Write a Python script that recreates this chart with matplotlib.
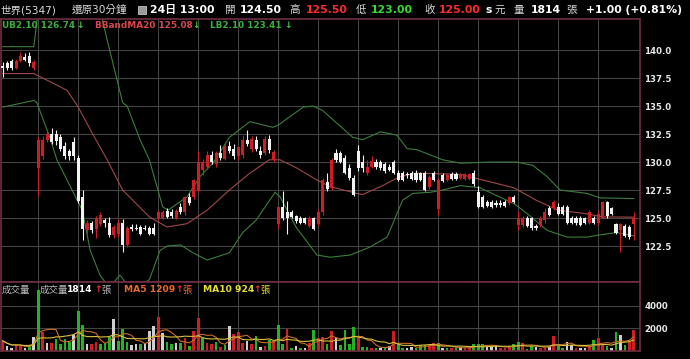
import matplotlib
matplotlib.use("Agg")
import matplotlib.pyplot as plt
import numpy as np
import pandas as pd

# K線資料 (30分鐘, 143根)
opens = [138.6, 138.8, 139.0, 138.4, 139.0, 139.4, 139.5, 138.4,
         129.5, 130.5, 132.0, 132.5, 132.5, 132.2, 131.4, 131.0, 131.8,
         130.4, 126.9, 123.9, 124.6, 124.0, 124.5, 124.8, 124.6, 123.5,
         123.6, 124.6, 122.6, 124.2, 124.1, 124.2, 124.1, 124.1, 124.1,
         125.0, 125.0, 125.6, 125.5, 125.0, 126.0, 125.5, 126.9, 126.9,
         127.4, 129.3, 129.6, 130.6, 129.8, 130.8, 130.3, 131.4, 131.2,
         130.5, 130.6, 132.0, 131.2, 132.0, 131.0, 130.8, 132.1, 130.2,
         124.5, 126.0, 125.5, 125.5, 125.2, 125.0, 125.0, 124.3, 125.0,
         124.5, 125.5, 128.2, 127.7, 130.8, 130.8, 130.4, 129.5, 128.6,
         131.0, 130.0, 129.0, 129.6, 130.0, 130.0, 129.8, 129.6, 130.0,
         129.0, 129.0, 128.9, 129.0, 129.0, 129.0, 129.0, 127.8, 129.0,
         125.8, 128.8, 128.4, 128.9, 128.9, 128.6, 128.5, 128.5, 129.0,
         127.3, 126.9, 126.4, 126.4, 126.3, 126.3, 126.4, 126.3, 126.9,
         124.4, 124.4, 125.0, 125.0, 124.3, 124.4, 124.8, 125.9, 125.9,
         126.0, 126.0, 126.0, 125.0, 125.0, 125.0, 125.0, 124.6, 125.0,
         124.6, 125.0, 126.4, 125.9, 124.5, 123.9, 124.3, 124.2, 124.5]
highs = [138.9, 139.0, 139.2, 139.2, 139.8, 139.7, 139.8, 139.1,
         132.2, 132.3, 132.9, 133.0, 132.9, 132.5, 131.8, 131.2, 132.2,
         130.6, 127.5, 124.8, 124.7, 125.2, 125.5, 125.0, 125.1, 124.4,
         124.9, 124.9, 124.3, 124.5, 124.5, 124.4, 124.4, 124.3, 124.6,
         125.7, 125.7, 125.9, 125.8, 125.8, 126.3, 127.0, 127.2, 128.5,
         131.0, 130.3, 131.0, 131.0, 131.0, 131.5, 131.8, 131.9, 131.6,
         131.4, 132.4, 132.9, 132.3, 132.3, 131.4, 132.3, 132.4, 131.1,
         126.0, 127.4, 126.5, 125.7, 125.3, 125.2, 125.1, 125.2, 125.1,
         125.8, 128.6, 129.0, 130.4, 131.2, 131.0, 130.6, 129.8, 128.8,
         131.5, 130.6, 130.2, 130.5, 130.3, 130.2, 130.0, 129.8, 130.2,
         129.3, 129.2, 129.1, 129.2, 129.3, 129.1, 129.2, 128.8, 129.2,
         128.6, 129.0, 129.0, 129.1, 129.1, 129.0, 129.0, 129.0, 129.3,
         127.9, 127.1, 126.6, 126.6, 126.6, 126.6, 126.6, 127.0, 127.1,
         125.6, 125.2, 125.2, 125.1, 124.5, 125.2, 125.9, 126.1, 126.6,
         126.3, 126.2, 126.2, 125.2, 125.2, 125.2, 125.1, 125.7, 125.2,
         125.7, 126.5, 126.5, 126.0, 124.6, 124.6, 124.5, 124.4, 125.5]
lows = [137.6, 138.2, 138.2, 138.3, 138.9, 139.0, 138.6, 138.2,
        127.0, 130.3, 131.8, 131.6, 131.5, 131.0, 130.3, 130.2, 130.2,
        126.3, 123.0, 123.6, 123.7, 123.2, 124.3, 124.2, 123.3, 123.2,
        123.3, 122.0, 122.4, 123.8, 123.9, 123.5, 123.9, 123.5, 123.5,
        124.8, 124.9, 125.0, 125.0, 124.9, 125.4, 125.3, 126.2, 126.7,
        127.3, 128.8, 129.4, 129.8, 129.6, 130.2, 130.2, 130.8, 130.3,
        130.2, 130.4, 131.4, 130.9, 131.0, 130.4, 130.6, 130.8, 130.0,
        124.0, 124.8, 123.6, 125.0, 124.6, 124.5, 124.5, 124.2, 123.9,
        124.3, 125.3, 127.4, 127.5, 130.0, 129.9, 128.9, 128.4, 127.0,
        129.2, 129.1, 128.8, 129.5, 129.4, 129.3, 129.0, 129.2, 128.9,
        128.3, 128.3, 128.6, 128.4, 128.2, 128.3, 127.4, 127.6, 128.3,
        125.3, 128.2, 128.3, 128.4, 128.4, 128.5, 128.4, 128.4, 127.9,
        125.9, 125.9, 126.0, 125.9, 126.0, 126.0, 126.0, 126.2, 126.3,
        123.9, 124.2, 124.2, 123.9, 123.9, 124.2, 124.6, 125.2, 125.7,
        125.3, 125.3, 124.5, 124.5, 124.4, 124.3, 124.5, 124.5, 124.5,
        124.4, 124.9, 125.0, 125.3, 123.6, 122.0, 123.3, 123.1, 123.0]
closes = [138.4, 138.4, 138.4, 139.0, 139.5, 139.1, 138.8, 138.9,
          132.0, 132.0, 132.5, 131.8, 131.9, 131.2, 130.5, 130.5, 130.5,
          126.5, 124.0, 124.6, 123.9, 125.0, 125.3, 124.6, 123.5, 124.2,
          124.6, 122.6, 124.1, 124.0, 124.0, 123.6, 124.0, 123.6, 123.6,
          125.5, 125.5, 125.1, 125.2, 125.6, 125.5, 126.9, 126.3, 128.4,
          130.0, 130.0, 130.6, 130.0, 130.8, 130.4, 131.4, 131.0, 130.5,
          131.3, 132.0, 131.6, 132.1, 131.2, 130.6, 132.1, 131.1, 130.9,
          126.0, 125.0, 125.0, 125.1, 124.7, 124.6, 124.6, 125.0, 124.0,
          125.5, 128.4, 127.6, 130.2, 130.2, 130.0, 129.0, 128.6, 127.1,
          129.5, 129.5, 129.6, 130.1, 129.6, 129.5, 129.2, 129.3, 129.0,
          128.4, 128.4, 128.8, 128.5, 128.4, 128.4, 127.5, 128.7, 128.4,
          128.4, 128.3, 128.8, 128.5, 128.5, 128.9, 128.9, 128.9, 128.0,
          126.0, 126.0, 126.1, 126.0, 126.2, 126.2, 126.1, 126.9, 126.4,
          125.0, 125.0, 124.3, 124.1, 124.1, 125.0, 125.5, 125.3, 126.4,
          125.4, 125.4, 124.6, 124.6, 124.6, 124.4, 124.6, 125.5, 124.6,
          125.4, 126.4, 125.2, 125.4, 123.7, 124.5, 123.4, 123.3, 125.0]

# 成交量 (張) 與顏色 r=漲 g=跌 w=平
volumes = [900, 470, 250, 530, 470, 290, 530, 1200,
           5370, 1640, 680, 680, 1050, 620, 1050, 820, 1400,
           3520, 2290, 600, 620, 820, 620, 730, 1250, 2800,
           880, 1900, 800, 530, 590, 620, 680, 1760, 2230,
           2960, 1550, 820, 590, 680, 680, 1170, 470, 1760,
           2870, 1110, 680, 620, 760, 380, 530, 2230, 1500,
           1640, 680, 880, 590, 1350, 380, 440, 970, 880,
           2290, 620, 1940, 290, 440, 290, 290, 680, 1850,
           1170, 1250, 620, 1760, 1110, 530, 1850, 620, 2140,
           1350, 380, 380, 290, 290, 290, 290, 470, 1790,
           590, 230, 290, 380, 230, 530, 530, 590, 680,
           680, 230, 290, 230, 230, 380, 290, 290, 590,
           590, 590, 380, 380, 470, 230, 290, 380, 590,
           760, 680, 180, 470, 380, 290, 290, 380, 1350,
           470, 290, 820, 530, 230, 290, 230, 470, 970,
           1170, 590, 470, 230, 1700, 1400, 530, 820, 1814]
vol_dir = ("rwwrrwgw" + "grwrggggw" + "ggwrrgggw" + "gggwwgwww" + "rwggwgrgr" +
           "rgrrgrgwr" + "rrwrgwrgr" + "ggrgwgwrg" + "rrgrwgggg" + "rggrgwgwr" +
           "ggwwgggrr" + "gwgrgwrrg" + "ggwwwrrrg" + "grggwrrwr" + "ggwwrwwrg" +
           "rrgwgwgrr")

# 布林通道 (讀取點)
mid_idx = [0, 7, 9, 14.5, 17, 19.7, 23.5, 27, 33, 37, 41.5, 46, 51, 55.6, 60, 62.4,
           66, 70.7, 73.7, 79.7, 81, 85, 89.4, 93, 103, 110, 115, 120, 125, 131, 135, 142]
mid_val = [137.9, 137.9, 137.5, 136.4, 134.9, 132.9, 130.2, 127.5, 125.1, 124.2, 124.5,
           125.7, 127.5, 129.0, 130.2, 130.2, 129.5, 128.4, 127.8, 127.2, 127.1, 127.8,
           128.7, 129.0, 128.9, 128.2, 127.7, 126.6, 125.7, 125.4, 125.1, 125.08]
ub_idx = [0, 7, 8, 9, 20, 22.4, 23.5, 27, 28, 30.9, 33, 36, 37.2, 41.5, 44.4, 47.3, 51,
          55.6, 60.8, 62, 67.6, 69.8, 72, 78.8, 81, 85, 88.7, 91, 93.2, 99, 103, 110,
          115.7, 119.3, 122.5, 125.4, 131.5, 134.4, 142]
ub_val = [140.3, 140.3, 143.5, 146.0, 146.0, 142.8, 140.9, 135.3, 135.0, 132.0, 130.2,
          126.0, 125.7, 126.9, 128.7, 129.9, 132.2, 133.6, 133.1, 133.3, 134.9, 135.0,
          134.6, 132.2, 132.0, 132.7, 132.4, 131.2, 131.1, 130.2, 129.9, 130.0, 130.0,
          129.7, 128.7, 127.5, 127.2, 126.8, 126.74]
lb_idx = [0, 7, 7.7, 10.6, 12.2, 17.9, 19.7, 21.9, 24, 26.4, 29, 33, 35.4, 37, 40, 42.8,
          46, 51, 54, 57, 61.3, 62.4, 66, 70.7, 73.7, 78.2, 82.6, 86.5, 90, 92.3, 96.2,
          99, 103, 107.4, 115, 118, 122.5, 127, 131.5, 134.4, 138.2, 142]
lb_val = [134.9, 135.5, 135.3, 132.2, 130.2, 125.7, 122.1, 119.9, 118.8, 119.9, 118.5,
          119.5, 122.1, 122.5, 122.6, 121.9, 121.25, 121.9, 123.7, 124.8, 127.3, 126.9,
          124.2, 121.7, 121.5, 121.7, 122.4, 123.3, 126.6, 127.2, 127.3, 127.5, 127.9,
          127.7, 126.3, 125.4, 123.9, 123.3, 123.3, 123.5, 123.7, 123.41]

price_ticks = [122.5, 125.0, 127.5, 130.0, 132.5, 135.0, 137.5, 140.0]
vol_ticks = [2000, 4000]
day_start = list(range(8, 143, 9))

RED = '#d01c24'
WHITE = '#f2f2f2'
GREEN = '#22b422'
GRAYV = '#cfcfcf'
GRID = '#444444'
FRAME = '#6e2e40'
FONTS = ['DejaVu Sans', 'Noto Sans CJK TC']

W, H = 690, 359
fig = plt.figure(figsize=(W / 100, H / 100), dpi=100, facecolor='black')
axp = fig.add_axes([1 / W, 77 / H, 639 / W, 263 / H], facecolor='black')
axv = fig.add_axes([1 / W, 8 / H, 639 / W, 69 / H], facecolor='black')

x = np.arange(len(opens))
o, h, l, c = map(np.array, (opens, highs, lows, closes))
up = c >= o
ccol = np.where(up, RED, WHITE)

for ax in (axp, axv):
    for d in day_start:
        ax.axvline(d, color=GRID, lw=0.8, zorder=0)
    ax.set_xlim(-0.38, 143.4)
    for s in ax.spines.values():
        s.set_color(FRAME)
        s.set_linewidth(1.2)
    ax.yaxis.tick_right()
    ax.tick_params(axis='y', length=0, pad=3, labelcolor='#e8e8e8', labelsize=6.2)
    ax.tick_params(axis='x', length=0, labelbottom=False)

for t in price_ticks:
    axp.axhline(t, color=GRID, lw=0.8, zorder=0)
axp.set_ylim(119.29, 142.77)
axp.set_yticks(price_ticks)
axp.set_yticklabels([f'{t:.1f}' for t in price_ticks], fontweight='bold')

# 布林通道
axp.plot(ub_idx, ub_val, color='#3d7d3d', lw=0.8, zorder=2)
axp.plot(lb_idx, lb_val, color='#3d7d3d', lw=0.8, zorder=2)
axp.plot(mid_idx, mid_val, color='#a04848', lw=0.8, zorder=2)

# K線
axp.vlines(x, l, h, colors=ccol, lw=0.8, zorder=3)
body = np.maximum(np.abs(c - o), 0.06)
axp.bar(x, body, bottom=np.minimum(o, c), width=0.68, color=ccol, lw=0, zorder=4)

# 成交量
vcol = [{'r': RED, 'g': GREEN, 'w': GRAYV}[k] for k in vol_dir]
for t in vol_ticks:
    axv.axhline(t, color=GRID, lw=0.8, zorder=0)
axv.bar(x, volumes, width=0.6, color=vcol, lw=0, zorder=2)
vs = pd.Series(volumes, dtype=float)
axv.plot(x, vs.rolling(5, min_periods=1).mean(), color='#c86e28', lw=0.8, zorder=3)
axv.plot(x, vs.rolling(10, min_periods=1).mean(), color='#d8c040', lw=0.8, zorder=3)
axv.set_ylim(0, 6090)
axv.set_yticks(vol_ticks)
axv.set_yticklabels([str(t) for t in vol_ticks], fontweight='bold')


def txt(px, py, s, color, bold=False, size=7.8):
    fig.text(px / W, 1 - py / H, s, color=color, fontsize=size, va='center', ha='left',
             fontweight='bold' if bold else 'normal', family=FONTS)


# 標題列
LG = '#d8d8d8'
txt(0, 10, '世界(5347)', LG, size=7.6)
txt(72, 10, '還原30分鐘', LG, size=7.6)
fig.patches.append(plt.Rectangle((138 / W, 1 - 14 / H), 8 / W, 8 / H, transform=fig.transFigure,
                                 facecolor='#9a9a9a', edgecolor='#dddddd', lw=0.5))
txt(150, 10, '24日 13:00', 'white', True)
txt(224, 10, '開', LG, size=7.6)
txt(240, 10, '124.50', 'white', True)
txt(289, 10, '高', LG, size=7.6)
txt(306, 10, '125.50', '#ff2a2a', True)
txt(356, 10, '低', LG, size=7.6)
txt(371, 10, '123.00', '#33dd33', True)
txt(424, 10, '收', LG, size=7.6)
txt(439, 10, '125.00', '#ff2a2a', True)
txt(485, 10, 's', 'white', True)
txt(494, 10, '元', LG, size=7.6)
txt(514, 10, '量', LG, size=7.6)
txt(531, 10, '1814', 'white', True)
txt(566, 10, '張', LG, size=7.6)
txt(586, 10, '+1.00 (+0.81%)', 'white', True)

# 通道圖例
txt(2, 25, 'UB2.10 126.74', '#3fae3f', True, 6.4)
txt(76, 25, '↓', '#3fd03f', True, 6.4)
txt(95, 25, 'BBandMA20 125.08', '#d94848', True, 6.4)
txt(192, 25, '↓', '#3fd03f', True, 6.4)
txt(210, 25, 'LB2.10 123.41', '#3fae3f', True, 6.4)
txt(284, 25, '↓', '#3fd03f', True, 6.4)

# 成交量圖例
txt(2, 290, '成交量', '#bbbbbb', size=6.8)
txt(40, 290, '成交量', '#bbbbbb', size=6.8)
txt(67, 290, '1814', 'white', True, 6.6)
txt(94, 290, '↑', '#ff3030', True, 6.6)
txt(101, 290, '張', '#bbbbbb', size=6.8)
txt(124, 290, 'MA5 1209', '#e8692a', True, 6.6)
txt(175, 290, '↑', '#ff3030', True, 6.6)
txt(182, 290, '張', '#e8692a', size=6.8)
txt(203, 290, 'MA10 924', '#e8e030', True, 6.6)
txt(253, 290, '↑', '#ff3030', True, 6.6)
txt(260, 290, '張', '#e8e030', size=6.8)

fig.savefig('out.png', dpi=100, facecolor='black')
